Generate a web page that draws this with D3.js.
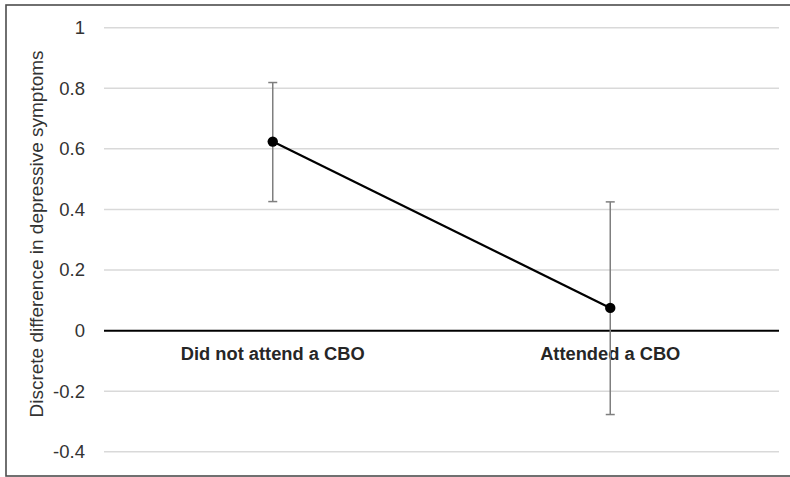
<!DOCTYPE html>
<html>
<head>
<meta charset="utf-8">
<script src="https://cdn.jsdelivr.net/npm/d3@7"></script>
<style>
  html, body { margin: 0; padding: 0; background: #fff; }
  svg { display: block; font-family: "Liberation Sans", Arial, sans-serif; }
</style>
</head>
<body>
<svg id="chart" width="790" height="477"></svg>
<script>
// Estimated discrete differences with confidence intervals
const categories = ["Did not attend a CBO", "Attended a CBO"];
const estimates = [0.624, 0.075];
const lowerCI = [0.426, -0.277];
const upperCI = [0.819, 0.425];
const yTicks = [-0.4, -0.2, 0, 0.2, 0.4, 0.6, 0.8, 1];
const yTitle = "Discrete difference in depressive symptoms";

const svg = d3.select("#chart");
const W = 790, H = 477;
const plot = { left: 104, right: 779, top: 27.7, bottom: 451.8 };

// outer frame
svg.append("rect")
  .attr("x", 6).attr("y", 5)
  .attr("width", W + 10).attr("height", 471)
  .attr("fill", "none").attr("stroke", "#4d4d4d").attr("stroke-width", 1.6);

const x = d3.scalePoint().domain(categories).range([plot.left, plot.right]).padding(0.5);
const y = d3.scaleLinear().domain([-0.4, 1]).range([plot.bottom, plot.top]);

// horizontal gridlines
svg.append("g")
  .selectAll("line")
  .data(yTicks.filter(t => t !== 0))
  .join("line")
  .attr("x1", plot.left).attr("x2", plot.right)
  .attr("y1", d => y(d)).attr("y2", d => y(d))
  .attr("stroke", "#d9d9d9").attr("stroke-width", 1.5);

// y axis labels (hyphen-minus for negatives)
const yAxis = d3.axisLeft(y).tickValues(yTicks).tickSize(0).tickPadding(0)
  .tickFormat(d => String(+d.toFixed(1)));
const yg = svg.append("g").attr("transform", `translate(85,0)`).call(yAxis);
yg.select(".domain").remove();
yg.selectAll("text")
  .attr("font-size", 18.5)
  .attr("fill", "#333")
  .attr("font-family", "Liberation Sans, Arial, sans-serif");

// zero line
svg.append("line")
  .attr("x1", plot.left).attr("x2", plot.right)
  .attr("y1", y(0)).attr("y2", y(0))
  .attr("stroke", "#000").attr("stroke-width", 2);

// category labels
svg.append("g")
  .selectAll("text")
  .data(categories)
  .join("text")
  .attr("x", d => x(d))
  .attr("y", 360)
  .attr("text-anchor", "middle")
  .attr("font-size", 18.3)
  .attr("font-weight", "bold")
  .attr("fill", "#262626")
  .text(d => d);

// y axis title
svg.append("text")
  .attr("transform", `translate(43,234) rotate(-90)`)
  .attr("text-anchor", "middle")
  .attr("font-size", 19)
  .attr("fill", "#333")
  .text(yTitle);

const data = categories.map((c, i) => ({ c, v: estimates[i], lo: lowerCI[i], hi: upperCI[i] }));

// error bars
const eb = svg.append("g").attr("stroke", "#7f7f7f").attr("stroke-width", 1.5);
eb.selectAll("line.v").data(data).join("line").attr("class", "v")
  .attr("x1", d => x(d.c)).attr("x2", d => x(d.c))
  .attr("y1", d => y(d.lo)).attr("y2", d => y(d.hi));
eb.selectAll("line.t").data(data).join("line").attr("class", "t")
  .attr("x1", d => x(d.c) - 4.5).attr("x2", d => x(d.c) + 4.5)
  .attr("y1", d => y(d.hi)).attr("y2", d => y(d.hi));
eb.selectAll("line.b").data(data).join("line").attr("class", "b")
  .attr("x1", d => x(d.c) - 4.5).attr("x2", d => x(d.c) + 4.5)
  .attr("y1", d => y(d.lo)).attr("y2", d => y(d.lo));

// connecting line
svg.append("path")
  .datum(data)
  .attr("fill", "none")
  .attr("stroke", "#000")
  .attr("stroke-width", 2.2)
  .attr("d", d3.line().x(d => x(d.c)).y(d => y(d.v)));

// markers
svg.append("g")
  .selectAll("circle")
  .data(data)
  .join("circle")
  .attr("cx", d => x(d.c)).attr("cy", d => y(d.v))
  .attr("r", 5.2)
  .attr("fill", "#000");
</script>
</body>
</html>
